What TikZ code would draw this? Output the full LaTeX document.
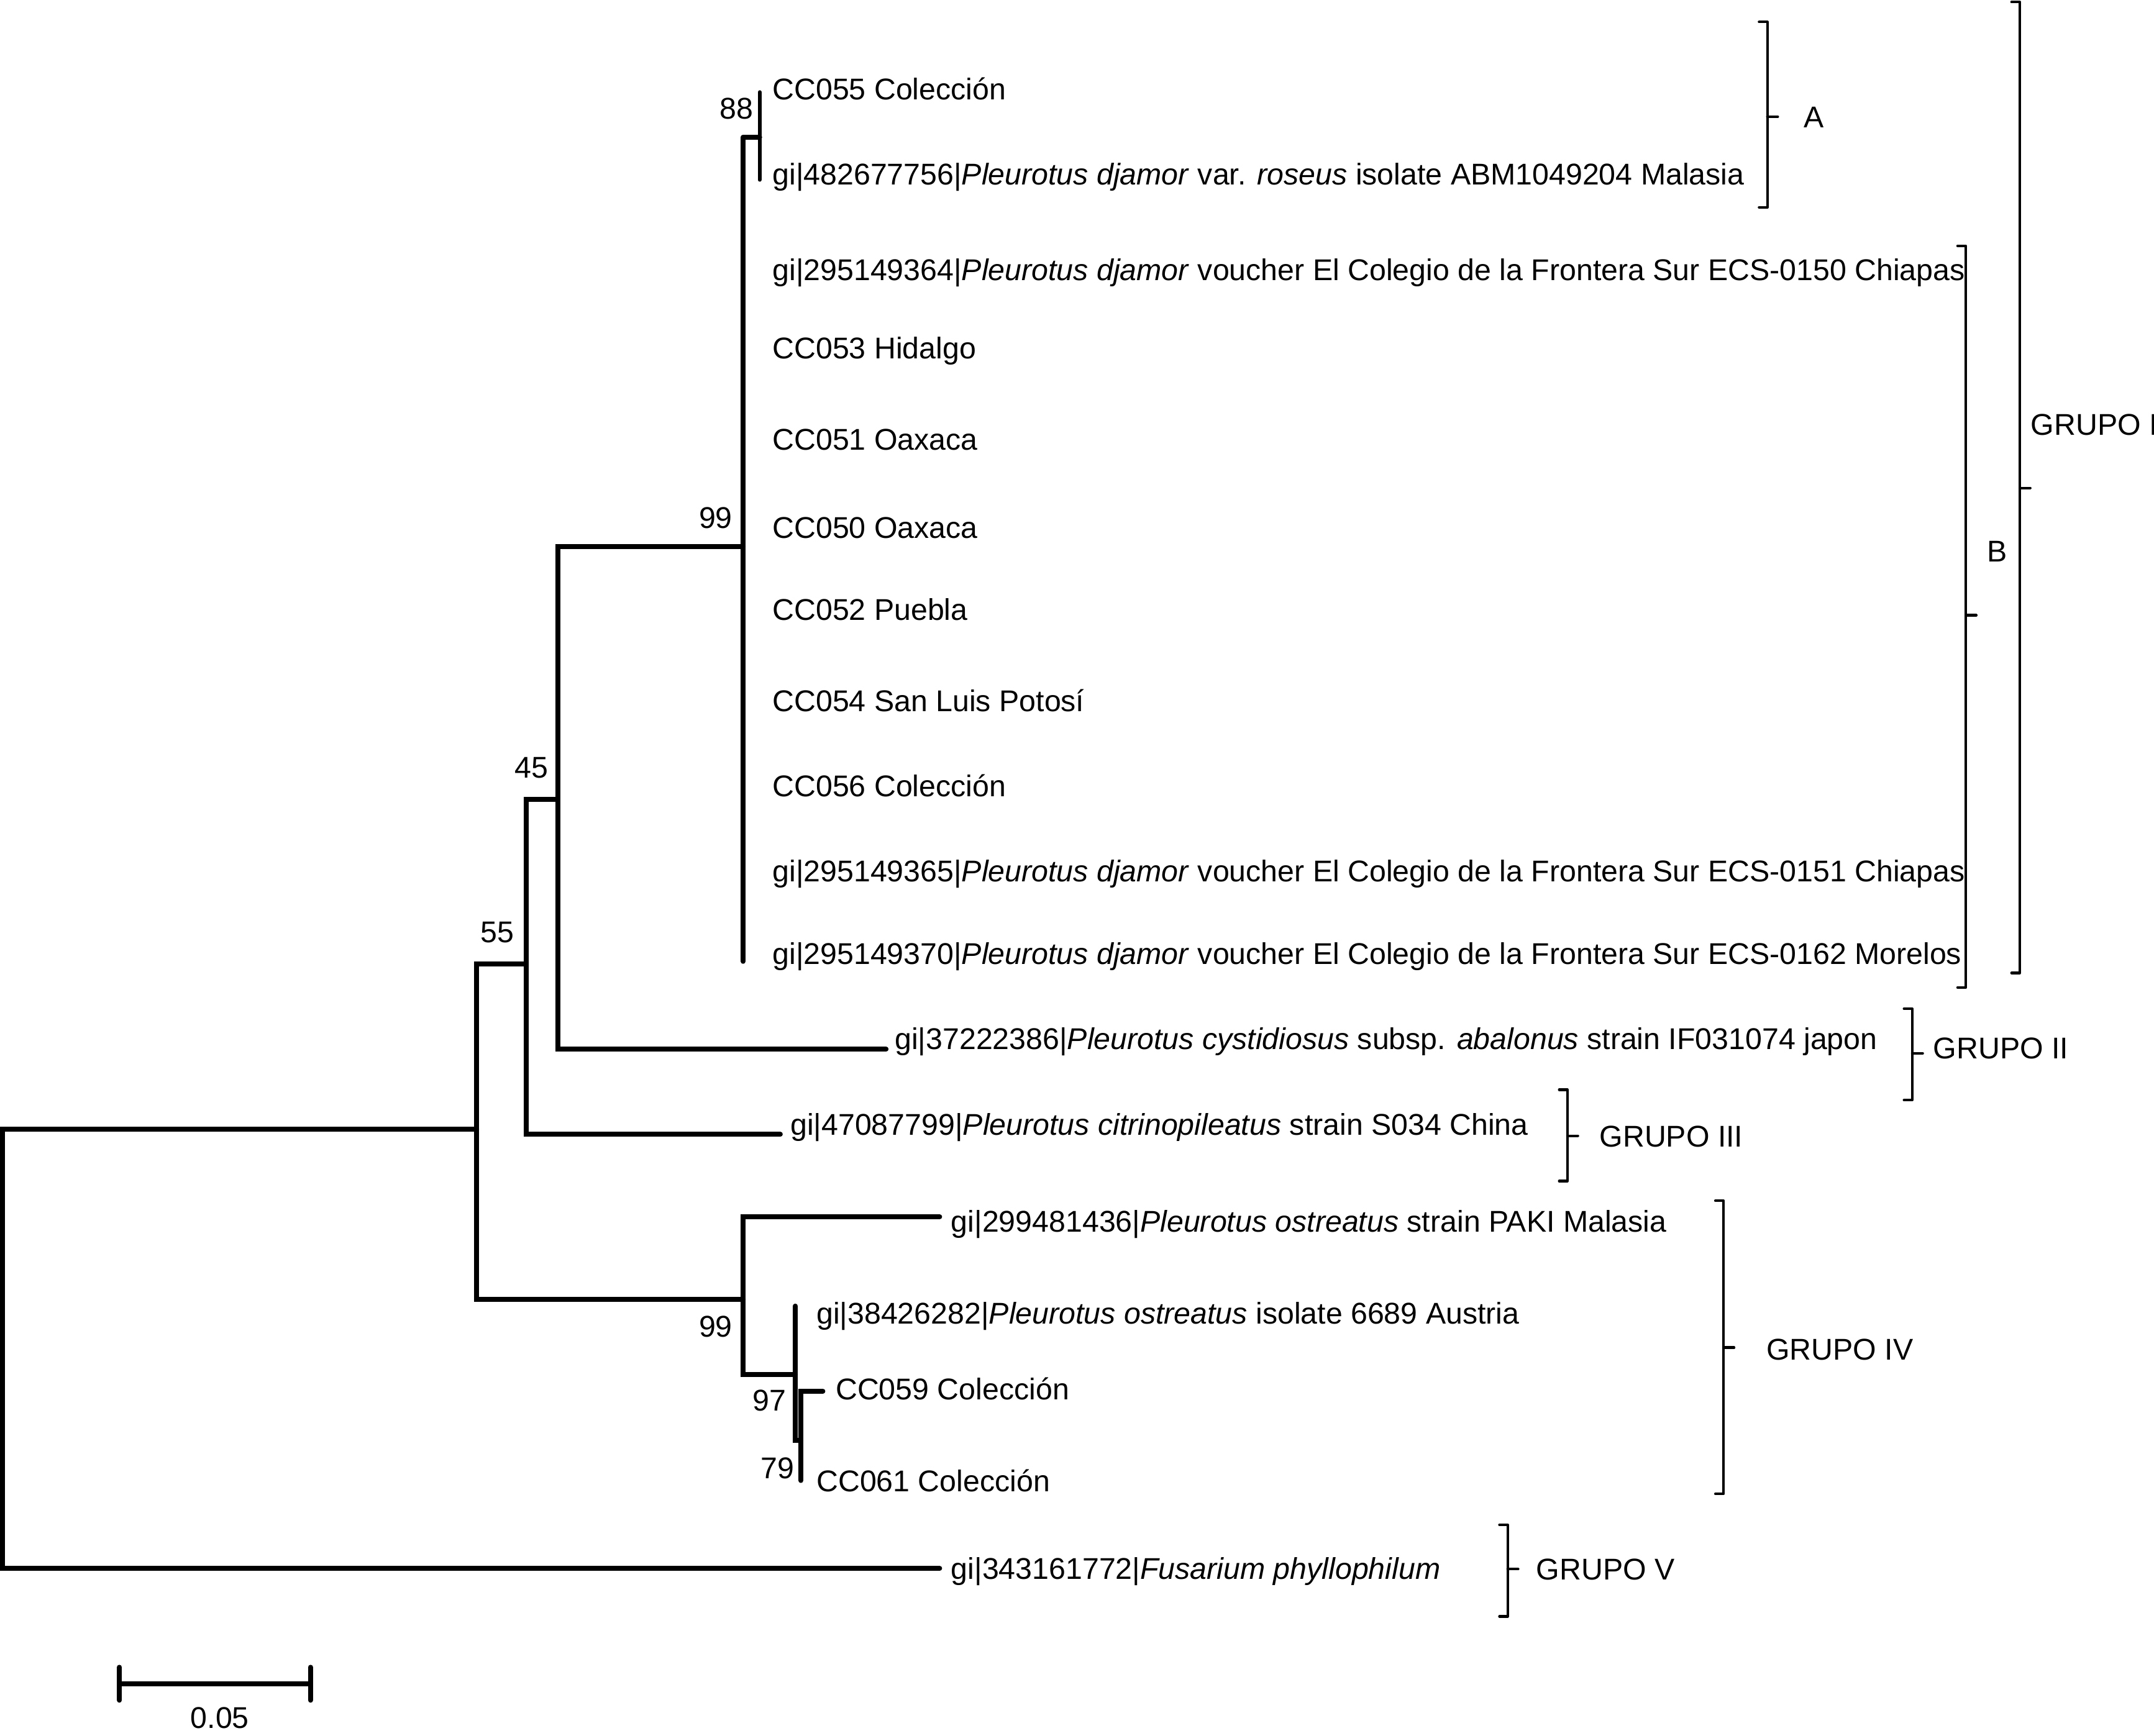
\documentclass[tikz,border=0pt]{standalone}
\usepackage{fontspec}
\setmainfont{Liberation Sans}
\newcommand{\treefont}{\fontsize{10.92}{13}\selectfont}
\begin{document}
\begin{tikzpicture}[x=0.5pt,y=-0.5pt,
  br/.style={line width=1.8pt,line cap=round,line join=miter},
  brk/.style={line width=0.95pt,line cap=round,line join=round},
  lbl/.style={anchor=base west,inner sep=0pt,font=\treefont},
  bs/.style={anchor=center,inner sep=0pt,font=\treefont},
  grp/.style={anchor=base west,inner sep=0pt,font=\treefont}]
\useasboundingbox (0,0) rectangle (1568,1264);
% ---------- tree coordinates ----------
\coordinate (root) at (2,822);
\coordinate (rootb) at (2,1142);
\coordinate (a55) at (347,822);
\coordinate (a55t) at (347,702);
\coordinate (a55b) at (347,946);
\coordinate (a45) at (383,702);
\coordinate (a45t) at (383,582);
\coordinate (a45b) at (383,826);
\coordinate (aC) at (406,582);
\coordinate (aCt) at (406,398);
\coordinate (aCb) at (406,764);
\coordinate (a99) at (541,398);
\coordinate (a99t) at (541,100);
\coordinate (a99b) at (541,700);
\coordinate (a88) at (553,100);
\coordinate (a88t) at (553,67);
\coordinate (a88b) at (553,131);
\coordinate (b99) at (541,946);
\coordinate (b99t) at (541,886);
\coordinate (b99b) at (541,1001);
\coordinate (b97) at (579,1001);
\coordinate (b97t) at (579,951);
\coordinate (b97b) at (579,1049);
\coordinate (b79) at (583,1049);
\coordinate (b79t) at (583,1013);
\coordinate (b79b) at (583,1078);
\coordinate (eFus) at (684,1142);
\coordinate (eCys) at (645,764);
\coordinate (eCit) at (568,826);
\coordinate (ePak) at (684,886);
\coordinate (e59) at (599,1013);
% ---------- branches ----------
\draw[br] (eFus) -- (rootb) -- (root) -- (a55);
\draw[br] (a45) -- (a55t) -- (a55b) -- (b99);
\draw[br] (aC) -- (a45t) -- (a45b) -- (eCit);
\draw[br] (a99) -- (aCt) -- (aCb) -- (eCys);
\draw[br] (a99t) -- (a99b);
\draw[br] (a99t) -- (a88);
\draw[br,line width=1.3pt] (a88t) -- (a88b);
\draw[br] (ePak) -- (b99t) -- (b99b) -- (b97);
\draw[br] (b97t) -- (b97b) -- (b79);
\draw[br] (b79b) -- (b79t) -- (e59);
% ---------- bootstrap values ----------
\node[bs] (v88) at (536,79) {88};
\node[bs] (v99a) at (521,377) {99};
\node[bs] (v45) at (387,559) {45};
\node[bs] (v55) at (362,679) {55};
\node[bs] (v99b) at (521,966) {99};
\node[bs] (v97) at (560,1020) {97};
\node[bs] (v79) at (566,1069) {79};
% ---------- leaf labels ----------
\node[lbl] (l1) at (562,72.5) {CC055 Colección};
\node[lbl] (l2) at (562,134.5) {gi|482677756|\textit{Pleurotus djamor} var. \textit{roseus} isolate ABM1049204 Malasia};
\node[lbl] (l3) at (562,204) {gi|295149364|\textit{Pleurotus djamor} voucher El Colegio de la Frontera Sur ECS-0150 Chiapas};
\node[lbl] (l4) at (562,261) {CC053 Hidalgo};
\node[lbl] (l5) at (562,327.5) {CC051 Oaxaca};
\node[lbl] (l6) at (562,392) {CC050 Oaxaca};
\node[lbl] (l7) at (562,451.5) {CC052 Puebla};
\node[lbl] (l8) at (562,518) {CC054 San Luis Potosí};
\node[lbl] (l9) at (562,580) {CC056 Colección};
\node[lbl] (l10) at (562,642) {gi|295149365|\textit{Pleurotus djamor} voucher El Colegio de la Frontera Sur ECS-0151 Chiapas};
\node[lbl] (l11) at (562,702) {gi|295149370|\textit{Pleurotus djamor} voucher El Colegio de la Frontera Sur ECS-0162 Morelos};
\node[lbl] (l12) at (651,764) {gi|37222386|\textit{Pleurotus cystidiosus} subsp. \textit{abalonus} strain IF031074 japon};
\node[lbl] (l13) at (575,826.5) {gi|47087799|\textit{Pleurotus citrinopileatus} strain S034 China};
\node[lbl] (l14) at (692,897) {gi|299481436|\textit{Pleurotus ostreatus} strain PAKI Malasia};
\node[lbl] (l15) at (594,964) {gi|38426282|\textit{Pleurotus ostreatus} isolate 6689 Austria};
\node[lbl] (l16) at (608,1019) {CC059 Colección};
\node[lbl] (l17) at (594,1086) {CC061 Colección};
\node[lbl] (l18) at (692,1150) {gi|343161772|\textit{Fusarium phyllophilum}};
% ---------- brackets ----------
\coordinate (kAt) at (1286.5,16);   \coordinate (kAb) at (1286.5,151);  \coordinate (kAm) at (1286.5,85);
\coordinate (kBt) at (1431,179);    \coordinate (kBb) at (1431,719);    \coordinate (kBm) at (1431,448);
\coordinate (kIt) at (1470.3,1.5);  \coordinate (kIb) at (1470.3,708.5);\coordinate (kIm) at (1470.3,355.4);
\coordinate (kIIt) at (1392,734.5); \coordinate (kIIb) at (1392,801);   \coordinate (kIIm) at (1392,767);
\coordinate (kIIIt) at (1141,793.5);\coordinate (kIIIb) at (1141,860);  \coordinate (kIIIm) at (1141,827);
\coordinate (kIVt) at (1254.7,874.3);\coordinate (kIVb) at (1254.7,1087.7);\coordinate (kIVm) at (1254.7,981.2);
\coordinate (kVt) at (1097.5,1110.3);\coordinate (kVb) at (1097.5,1177);\coordinate (kVm) at (1097.5,1142.5);
\foreach \k in {A,B,I,II,III,IV,V}{
  \draw[brk] ([xshift=-3pt]k\k t) -- (k\k t) -- (k\k b) -- ([xshift=-3pt]k\k b);
  \draw[brk] (k\k m) -- ([xshift=3.8pt]k\k m);
}
% ---------- group labels ----------
\node[grp] (gA) at (1312.6,93) {A};
\node[grp] (gB) at (1446,409) {B};
\node[grp] (gI) at (1478,317) {GRUPO I};
\node[grp] (gII) at (1407,771) {GRUPO II};
\node[grp] (gIII) at (1164,835) {GRUPO III};
\node[grp] (gIV) at (1285.5,990) {GRUPO IV};
\node[grp] (gV) at (1118,1150.5) {GRUPO V};
% ---------- scale bar ----------
\coordinate (sL) at (87,1226);
\coordinate (sR) at (226,1226);
\coordinate (sLt) at (87,1214);
\coordinate (sLb) at (87,1238);
\coordinate (sRt) at (226,1214);
\coordinate (sRb) at (226,1238);
\draw[br] (sL) -- (sR);
\draw[br] (sLt) -- (sLb);
\draw[br] (sRt) -- (sRb);
\node[bs] (sLab) at (160,1251) {0.05};
\end{tikzpicture}
\end{document}
